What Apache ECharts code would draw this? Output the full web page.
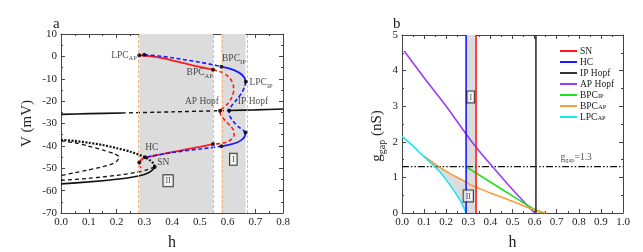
<!DOCTYPE html>
<html><head><meta charset="utf-8">
<script src="https://cdn.jsdelivr.net/npm/echarts@6/dist/echarts.min.js"></script>
<style>html,body{margin:0;padding:0;background:#fff}#c{width:643px;height:252px}</style>
</head><body><div id="c"></div>
<script>
// ---------- Panel a data (h, V in mV) ----------
const fpUpperSolidL = [[0,-25.9],[0.1,-25.6],[0.22,-25.3]];
const fpUpperDash   = [[0.22,-25.3],[0.4,-24.8],[0.573,-24.3],[0.606,-24.2]];
const fpUpperSolidR = [[0.606,-24.2],[0.7,-23.9],[0.8,-23.5]];
const fpLowerSolid  = [[0,-57],[0.1,-56.1],[0.2,-54.9],[0.26,-53.9],[0.3,-52.8],[0.325,-51.3],[0.338,-49.4]];
const fpLowerDash   = [[0,-55.4],[0.1,-54.5],[0.2,-53.2],[0.27,-51.9],[0.31,-50.7],[0.338,-49.4]];
const poLoop        = [[0,-37.8],[0.05,-38.6],[0.093,-39.9],[0.152,-41.9],[0.19,-43.4],[0.21,-45],[0.2,-47],[0.177,-48.4],[0.13,-49.9],[0.093,-50.9],[0.05,-52],[0,-53.2]];
const poDotted      = [[0,-37.3],[0.05,-37.8],[0.1,-38.6],[0.15,-39.6],[0.2,-41],[0.25,-42.6],[0.303,-45.1],[0.32,-46.4],[0.333,-47.9],[0.338,-49.4]];
const redUpSolid    = [[0.282,0.5],[0.32,0.1],[0.37,-0.9],[0.42,-2.4],[0.47,-3.9],[0.51,-4.9],[0.548,-6]];
const redLoopDash   = [[0.548,-6],[0.575,-6.9],[0.598,-8.5],[0.613,-10.5],[0.621,-13],[0.622,-15.5],[0.615,-18.5],[0.6,-21.3],[0.585,-23],[0.573,-24.3],[0.575,-26],[0.59,-28.5],[0.61,-31],[0.622,-33],[0.624,-35],[0.615,-37],[0.595,-38.4],[0.57,-39],[0.548,-39.2]];
const redLowSolid   = [[0.282,-47.4],[0.29,-46.2],[0.3,-45.4],[0.35,-44],[0.4,-42.8],[0.45,-41.6],[0.5,-40.4],[0.548,-39.2]];
const redHookDash   = [[0.282,-47.4],[0.283,-48.6],[0.288,-49.8],[0.293,-50.6]];
const blueUpDash    = [[0.3,0.7],[0.35,0.2],[0.4,-0.6],[0.45,-1.6],[0.5,-2.6],[0.55,-3.8],[0.578,-4.6]];
const blueUpSolid   = [[0.578,-4.6],[0.61,-5.6],[0.635,-6.8],[0.652,-8.2],[0.662,-9.8],[0.666,-11.3]];
const blueMidDash   = [[0.666,-11.3],[0.662,-13.5],[0.65,-16.5],[0.632,-19.5],[0.615,-22],[0.606,-24.2],[0.608,-26.5],[0.62,-29],[0.64,-31.5],[0.656,-33],[0.665,-34]];
const blueLowSolid  = [[0.665,-34],[0.662,-35.8],[0.652,-37.2],[0.632,-38.6],[0.605,-39.6],[0.578,-40.2]];
const blueLowDash   = [[0.578,-40.2],[0.5,-41.4],[0.4,-43],[0.303,-45.1]];
const bifPointsA    = [[0.282,0.5],[0.3,0.7],[0.548,-6],[0.578,-4.6],[0.666,-11.3],[0.573,-24.3],[0.606,-24.2],[0.665,-34],[0.548,-39.2],[0.578,-40.2],[0.303,-45.1],[0.282,-47.4],[0.338,-49.4]];
const bandsA        = [[0.282,0.548],[0.578,0.665]];
const xTicksA = ['0.0','0.1','0.2','0.3','0.4','0.5','0.6','0.7','0.8'];
const yTicksA = ['-70','-60','-50','-40','-30','-20','-10','0','10'];

// ---------- Panel b data (h, g_gap in nS) ----------
const snLine   = [[0.335,0],[0.335,5]];
const hcLine   = [[0.29,0],[0.29,5]];
const ipHopf   = [[0.606,0],[0.606,5]];
const apHopf   = [[0.01,4.55],[0.1,3.8],[0.2,3.0],[0.29,2.22],[0.335,1.85],[0.41,1.3],[0.5,0.66],[0.6,0]];
const bpcIP    = [[0.29,1.3],[0.4,0.87],[0.5,0.48],[0.578,0.18],[0.61,0.07],[0.635,0]];
const bpcAP    = [[0.1,1.6],[0.17,1.29],[0.22,1.1],[0.29,0.87],[0.31,0.79],[0.335,0.73],[0.4,0.56],[0.5,0.33],[0.578,0.13],[0.62,0.05],[0.65,0]];
const lpcAP    = [[0,2.15],[0.05,1.88],[0.1,1.58],[0.14,1.35],[0.172,1.15],[0.2,0.93],[0.24,0.58],[0.27,0.28],[0.29,0]];
const gRef     = [[0,1.3],[1,1.3]];
const bandB    = [0.29,0.335];
const xTicksB = ['0.0','0.1','0.2','0.3','0.4','0.5','0.6','0.7','0.8','0.9','1.0'];
const yTicksB = ['0','1','2','3','4','5'];

const F = 'Liberation Serif';
const INK = '#222';
const GRAY = '#dcdcdc';
const RED = '#ff1a1a', BLUE = '#1a1aff', PURPLE = '#9b3df5', GREEN = '#22e022', ORANGE = '#ff9a3c', CYAN = '#19e6f0', DARK = '#333';
const RICH = {
  n: {fontFamily: F, fontSize: 9.5, color: INK, verticalAlign: 'middle', lineHeight: 14},
  s: {fontFamily: F, fontSize: 6.5, color: INK, verticalAlign: 'bottom'}
};

function ln(name, data, color, type, width, xi, yi, z) {
  return {type: 'line', name, data, xAxisIndex: xi, yAxisIndex: yi, showSymbol: false, symbol: 'none',
    smooth: 0.25, silent: true, z: z || 3, color,
    lineStyle: {color, type: type || 'solid', width: width || 1.6}};
}
function mkX(gi, min, max, interval, labels, pos) {
  return {type: 'value', gridIndex: gi, min, max, interval, position: pos,
    axisLine: {show: true, onZero: false, lineStyle: {color: '#444', width: 1}},
    axisTick: {show: true, inside: true, length: 4, lineStyle: {color: '#444'}},
    minorTick: {show: true, splitNumber: 2, length: 2, lineStyle: {color: '#444'}},
    splitLine: {show: false},
    axisLabel: {show: pos === 'bottom', margin: 4, fontFamily: F, fontSize: 11, color: INK,
      formatter: v => labels[Math.round((v - min) / interval)]}};
}
function mkY(gi, min, max, interval, labels, pos) {
  return {type: 'value', gridIndex: gi, min, max, interval, position: pos,
    axisLine: {show: true, onZero: false, lineStyle: {color: '#444', width: 1}},
    axisTick: {show: true, inside: true, length: 4, lineStyle: {color: '#444'}},
    minorTick: {show: true, splitNumber: 2, length: 2, lineStyle: {color: '#444'}},
    splitLine: {show: false},
    axisLabel: {show: pos === 'left', margin: 4, fontFamily: F, fontSize: 11, color: INK,
      formatter: v => labels[Math.round((v - min) / interval)]}};
}
function annot(items, xi, yi) {
  return {type: 'scatter', xAxisIndex: xi, yAxisIndex: yi, symbolSize: 0, silent: true, z: 20,
    label: {show: true, position: 'inside', fontFamily: F, fontSize: 9.5, color: INK, rich: RICH},
    data: items.map(it => ({value: it.at, label: Object.assign({show: true, formatter: it.t}, it.box ? {
      backgroundColor: '#fff', borderColor: '#111', borderWidth: 1, padding: [1, 2, 0, 2], fontSize: 8, lineHeight: 10, rich: {}
    } : {})}))};
}

const xAxes = [mkX(0, 0, 0.8, 0.1, xTicksA, 'bottom'), mkX(0, 0, 0.8, 0.1, xTicksA, 'top'),
               mkX(1, 0, 1, 0.1, xTicksB, 'bottom'), mkX(1, 0, 1, 0.1, xTicksB, 'top')];
const yAxes = [mkY(0, -70, 10, 10, yTicksA, 'left'), mkY(0, -70, 10, 10, yTicksA, 'right'),
               mkY(1, 0, 5, 1, yTicksB, 'left'), mkY(1, 0, 5, 1, yTicksB, 'right')];
Object.assign(xAxes[0], {name: 'h', nameLocation: 'middle', nameGap: 22, nameTextStyle: {fontFamily: F, fontSize: 16, color: INK}});
Object.assign(xAxes[2], {name: 'h', nameLocation: 'middle', nameGap: 22, nameTextStyle: {fontFamily: F, fontSize: 16, color: INK}});
Object.assign(yAxes[0], {name: 'V (mV)', nameLocation: 'middle', nameGap: 26, nameTextStyle: {fontFamily: F, fontSize: 15, color: INK}});
Object.assign(yAxes[2], {name: '{n|g}{s|gap}{n| (nS)}', nameLocation: 'middle', nameGap: 15,
  nameTextStyle: {fontFamily: F, fontSize: 15, color: INK, padding: [0, 24, 0, 0],
    rich: {n: {fontFamily: F, fontSize: 15, color: INK, verticalAlign: 'middle', lineHeight: 20}, s: {fontFamily: F, fontSize: 10, color: INK, verticalAlign: 'bottom'}}}});

const series = [
  // panel a background bands
  {type: 'line', name: 'bandA', data: [], xAxisIndex: 0, yAxisIndex: 0, silent: true, color: GRAY,
    markArea: {silent: true, itemStyle: {color: GRAY, opacity: 1}, data: bandsA.map(b => [{xAxis: b[0]}, {xAxis: b[1]}])},
    markLine: {silent: true, symbol: 'none', label: {show: false}, lineStyle: {color: '#f2b27a', type: [3, 2], width: 1, opacity: 1},
      data: bandsA.flat().map(v => ({xAxis: v}))}},
  ln('fpUS1', fpUpperSolidL, '#111', 'solid', 1.6, 0, 0),
  ln('fpUD', fpUpperDash, '#111', [4, 3], 1.4, 0, 0),
  ln('fpUS2', fpUpperSolidR, '#111', 'solid', 1.6, 0, 0),
  ln('fpLS', fpLowerSolid, '#111', 'solid', 1.6, 0, 0),
  ln('fpLD', fpLowerDash, '#111', [4, 3], 1.3, 0, 0),
  ln('poLoop', poLoop, '#111', [4, 3], 1.3, 0, 0),
  ln('poDot', poDotted, '#111', [2, 1.5], 2.2, 0, 0),
  ln('rUS', redUpSolid, RED, 'solid', 1.8, 0, 0, 4),
  ln('rLD', redLoopDash, RED, [4, 2.5], 1.6, 0, 0, 4),
  ln('rLS', redLowSolid, RED, 'solid', 1.8, 0, 0, 4),
  ln('rHD', redHookDash, RED, [2, 2], 1.4, 0, 0, 4),
  ln('bUD', blueUpDash, BLUE, [4, 2.5], 1.6, 0, 0, 4),
  ln('bUS', blueUpSolid, BLUE, 'solid', 1.8, 0, 0, 4),
  ln('bMD', blueMidDash, BLUE, [4, 2.5], 1.6, 0, 0, 4),
  ln('bLS', blueLowSolid, BLUE, 'solid', 1.8, 0, 0, 4),
  ln('bLD', blueLowDash, BLUE, [4, 2.5], 1.6, 0, 0, 4),
  {type: 'scatter', name: 'ptsA', data: bifPointsA, xAxisIndex: 0, yAxisIndex: 0, symbolSize: 4, itemStyle: {color: '#000'}, silent: true, z: 8},
  annot([
    {at: [0.227, 0.6], t: '{n|LPC}{s|AP}'},
    {at: [0.5, -7.3], t: '{n|BPC}{s|AP}'},
    {at: [0.623, -1.1], t: '{n|BPC}{s|IP}'},
    {at: [0.721, -11.6], t: '{n|LPC}{s|IP}'},
    {at: [0.508, -20.3], t: '{n|AP Hopf}'},
    {at: [0.692, -20.3], t: '{n|IP Hopf}'},
    {at: [0.327, -40.7], t: '{n|HC}'},
    {at: [0.369, -47.4], t: '{n|SN}'},
    {at: [0.386, -55.6], t: 'II', box: true},
    {at: [0.621, -46], t: 'I', box: true}
  ], 0, 0),

  // panel b
  {type: 'line', name: 'bandB', data: [], xAxisIndex: 2, yAxisIndex: 2, silent: true, color: GRAY,
    markArea: {silent: true, itemStyle: {color: GRAY, opacity: 1}, data: [[{xAxis: bandB[0]}, {xAxis: bandB[1]}]]}},
  {type: 'custom', name: 'regionII', xAxisIndex: 2, yAxisIndex: 2, silent: true, z: 1, data: [0], color: GRAY,
    itemStyle: {color: GRAY, opacity: 1},
    renderItem: (params, api) => {
      const top = bpcAP.filter(p => p[0] <= bandB[0] + 1e-9);
      const bot = lpcAP.filter(p => p[0] >= top[0][0] - 1e-9).slice().reverse();
      const pts = top.concat([[bandB[0], 0]]).concat(bot).map(p => api.coord(p));
      return {type: 'polygon', shape: {points: pts, smooth: 0.2}, style: {fill: GRAY, opacity: 1, stroke: null}};
    }},
  ln('gref', gRef, '#111', [7, 2, 1.5, 2, 1.5, 2], 1.3, 2, 2),
  ln('SN', snLine, RED, 'solid', 1.6, 2, 2, 5),
  ln('HC', hcLine, BLUE, 'solid', 1.6, 2, 2, 5),
  ln('IP Hopf', ipHopf, DARK, 'solid', 1.6, 2, 2, 5),
  ln('AP Hopf', apHopf, PURPLE, 'solid', 1.6, 2, 2, 4),
  ln('BPC_IP', bpcIP, GREEN, 'solid', 1.6, 2, 2, 4),
  ln('BPC_AP', bpcAP, ORANGE, 'solid', 1.6, 2, 2, 4),
  ln('LPC_AP', lpcAP, CYAN, 'solid', 1.6, 2, 2, 4),
  annot([
    {at: [0.311, 3.26], t: 'I', box: true},
    {at: [0.3, 0.48], t: 'II', box: true},
    {at: [0.788, 1.57], t: '{n|g}{s|gap}{n|=1.3}'}
  ], 2, 2)
];

const chart = echarts.init(document.getElementById('c'), null, {renderer: 'canvas'});
chart.setOption({
  animation: false,
  backgroundColor: '#fff',
  title: [
    {text: 'a', left: 48, top: 12, textStyle: {fontFamily: F, fontSize: 15, fontWeight: 'normal', color: INK}},
    {text: 'b', left: 388, top: 12, textStyle: {fontFamily: F, fontSize: 15, fontWeight: 'normal', color: INK}}
  ],
  grid: [
    {left: 61, top: 34, width: 222, height: 179, outerBoundsMode: 'none', containLabel: false},
    {left: 402, top: 35, width: 221, height: 178, outerBoundsMode: 'none', containLabel: false}
  ],
  xAxis: xAxes,
  yAxis: yAxes,
  legend: {
    data: ['SN', 'HC', 'IP Hopf', 'AP Hopf', 'BPC_IP', 'BPC_AP', 'LPC_AP'],
    orient: 'vertical', left: 555, top: 41, itemWidth: 17, itemHeight: 2, itemGap: 1, icon: 'rect',
    selectedMode: false,
    formatter: name => {
      const p = name.split('_');
      return p.length > 1 ? '{n|' + p[0] + '}{s|' + p[1] + '}' : '{n|' + name + '}';
    },
    textStyle: {fontFamily: F, fontSize: 9.5, color: INK, padding: [0, 0, 0, -2],
      rich: {n: {fontFamily: F, fontSize: 9.5, color: INK, verticalAlign: 'middle', lineHeight: 10},
             s: {fontFamily: F, fontSize: 6.5, color: INK, verticalAlign: 'bottom'}}}
  },
  series
});
</script></body></html>
